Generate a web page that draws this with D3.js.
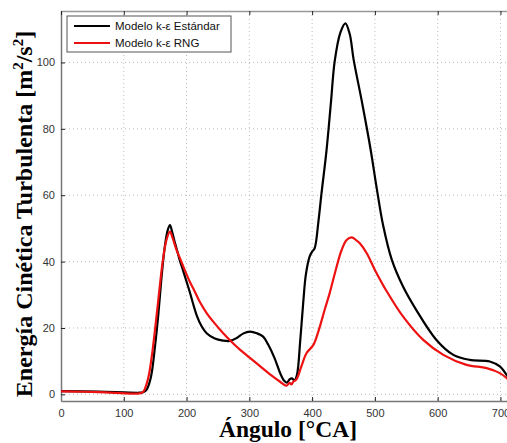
<!DOCTYPE html>
<html lang="es">
<head>
<meta charset="utf-8" />
<title>Energía cinética turbulenta</title>
<script src="https://d3js.org/d3.v7.min.js"></script>
<style>
  body { margin: 0; background: #fff; }
  .tick text { font-family: "Liberation Sans", Arial, sans-serif; font-size: 11px; fill: #333; }
  .grid line { stroke: #bbb; stroke-dasharray: 1,3; }
</style>
</head>
<body>
<div id="chart"></div>
<script>
// Ángulo de cigüeñal [°CA] y energía cinética turbulenta [m2/s2]
var anguloStd = [0, 60, 125, 130, 136, 143, 150, 155, 160, 165, 170, 173.5, 177, 181, 184, 189, 195, 205, 216, 224, 232, 245, 258, 269, 280, 290, 301, 312, 322, 330, 340, 350, 356, 360, 364, 368, 372, 376, 381, 386, 390, 396, 400, 404, 410, 415, 423, 430, 436, 445, 453, 460, 466, 480, 493, 503, 513, 527, 545, 566, 598, 625, 651, 683, 699, 710, 716];
var kStd = [1.0, 0.8, 0.5, 0.6, 1.3, 5, 14.9, 24, 35, 44, 49.5, 51, 49, 46, 44, 40.5, 37, 30.9, 23.9, 20.5, 18.4, 16.8, 16.2, 16.1, 17, 18.3, 18.9, 18.4, 17.4, 15, 11, 6, 4, 3.5, 4.5, 4.8, 4.2, 6, 16, 28, 36, 41.5, 43, 44, 52, 60.6, 73.6, 88, 100.4, 109, 111.8, 108.5, 101, 87.5, 74, 62, 51, 40.5, 32.4, 25.4, 16.4, 11.9, 10.4, 9.9, 8.4, 5.8, 4];

var anguloRng = [0, 60, 125, 131, 139, 145, 150, 155, 162, 168, 173.5, 178, 184, 189.5, 197, 205, 213, 221, 232, 242.5, 258, 274, 285, 301, 317, 333, 349, 359, 364, 367, 370, 375, 383, 391, 402, 410, 420, 428, 437, 447, 455, 463, 470, 476, 487, 500, 519, 545, 577, 609, 646, 678, 699, 710, 716];
var kRng = [0.9, 0.7, 0.3, 0.8, 5, 12, 19.9, 28.4, 40, 46.5, 49, 47, 43.5, 41, 37.5, 34, 31, 27.9, 24.5, 21.9, 18.5, 15.4, 13.5, 11, 8.5, 6, 3.8, 2.6, 3.5, 3.0, 3.8, 4.5, 8.5, 12.4, 14.9, 19, 25.5, 30.5, 37, 43.5, 46.5, 47.3, 46.5, 45.5, 42.5, 37.5, 31, 23.4, 16.4, 11.9, 8.9, 7.9, 6.4, 4.9, 3.8];

var xTicks = [0, 100, 200, 300, 400, 500, 600, 700];
var yTicks = [0, 20, 40, 60, 80, 100];
var series = ["Modelo k-ε Estándar", "Modelo k-ε RNG"];
var colores = ["#000000", "#ee1111"];

var width = 507, height = 443;
var mLeft = 61, mTop = 11, mBottom = 401;

var svg = d3.select("#chart").append("svg")
    .attr("width", width)
    .attr("height", height);

var x = d3.scaleLinear().domain([0, 720]).range([mLeft, mLeft + 452]);
var y = d3.scaleLinear().domain([-2, 115.5]).range([mBottom, mTop]);

// rejilla punteada
svg.append("g").attr("class", "grid")
    .selectAll("line").data(xTicks.slice(1)).enter().append("line")
    .attr("x1", function(d){ return x(d); }).attr("x2", function(d){ return x(d); })
    .attr("y1", mTop).attr("y2", mBottom);
svg.append("g").attr("class", "grid")
    .selectAll("line").data(yTicks).enter().append("line")
    .attr("x1", mLeft).attr("x2", width)
    .attr("y1", function(d){ return y(d); }).attr("y2", function(d){ return y(d); });

// ejes
var xAxis = d3.axisBottom(x).tickValues(xTicks).tickSizeInner(-4).tickSizeOuter(0).tickPadding(8);
var yAxis = d3.axisLeft(y).tickValues(yTicks).tickSizeInner(-4).tickSizeOuter(0).tickPadding(6);

var gx = svg.append("g").attr("transform", "translate(0," + mBottom + ")").call(xAxis);
var gy = svg.append("g").attr("transform", "translate(" + mLeft + ",0)").call(yAxis);
// marcas en el borde superior
var gt = svg.append("g").attr("transform", "translate(0," + mTop + ")")
    .call(d3.axisTop(x).tickValues(xTicks).tickSizeInner(-4).tickSizeOuter(0).tickFormat(""));
[gx, gy, gt].forEach(function(g){
  g.select(".domain").attr("stroke", "#777").attr("stroke-width", 1.5);
  g.selectAll(".tick line").attr("stroke", "#222");
});
gt.select(".domain").attr("stroke", "#999");

// curvas
var linea = d3.line()
    .x(function(d){ return x(d[0]); })
    .y(function(d){ return y(d[1]); })
    .curve(d3.curveCatmullRom.alpha(0.5));

var datos = [d3.zip(anguloStd, kStd), d3.zip(anguloRng, kRng)];

svg.append("defs").append("clipPath").attr("id", "clip")
  .append("rect").attr("x", mLeft).attr("y", mTop).attr("width", 460).attr("height", mBottom - mTop);

svg.append("g").attr("clip-path", "url(#clip)")
  .selectAll("path").data(datos).enter().append("path")
    .attr("d", linea)
    .attr("fill", "none")
    .attr("stroke", function(d, i){ return colores[i]; })
    .attr("stroke-width", 2.2)
    .attr("stroke-linejoin", "round");

// leyenda
var leg = svg.append("g");
leg.append("rect")
    .attr("x", 67).attr("y", 16).attr("width", 164).attr("height", 36)
    .attr("fill", "#fff").attr("stroke", "#555").attr("stroke-width", 1);
series.forEach(function(s, i){
  var yy = 26 + i * 17;
  leg.append("line").attr("x1", 74).attr("x2", 110).attr("y1", yy).attr("y2", yy)
     .attr("stroke", colores[i]).attr("stroke-width", 2.2);
  leg.append("text").attr("x", 115).attr("y", yy + 4)
     .attr("font-family", "Liberation Sans, Arial, sans-serif").attr("font-size", 11.5)
     .attr("fill", "#111").text(s);
});

// títulos de ejes
svg.append("text")
    .attr("x", 288).attr("y", 437)
    .attr("text-anchor", "middle")
    .attr("font-family", "Liberation Serif, Times New Roman, serif")
    .attr("font-weight", "bold").attr("font-size", 23.5)
    .text("Ángulo [°CA]");

var yl = svg.append("text")
    .attr("transform", "translate(32,214) rotate(-90)")
    .attr("text-anchor", "middle")
    .attr("font-family", "Liberation Serif, Times New Roman, serif")
    .attr("font-weight", "bold").attr("font-size", 24);
yl.append("tspan").text("Energía Cinética Turbulenta [m");
yl.append("tspan").attr("font-size", 15).attr("dy", -9).text("2");
yl.append("tspan").attr("dy", 9).text("/s");
yl.append("tspan").attr("font-size", 15).attr("dy", -9).text("2");
yl.append("tspan").attr("dy", 9).text("]");
</script>
</body>
</html>
